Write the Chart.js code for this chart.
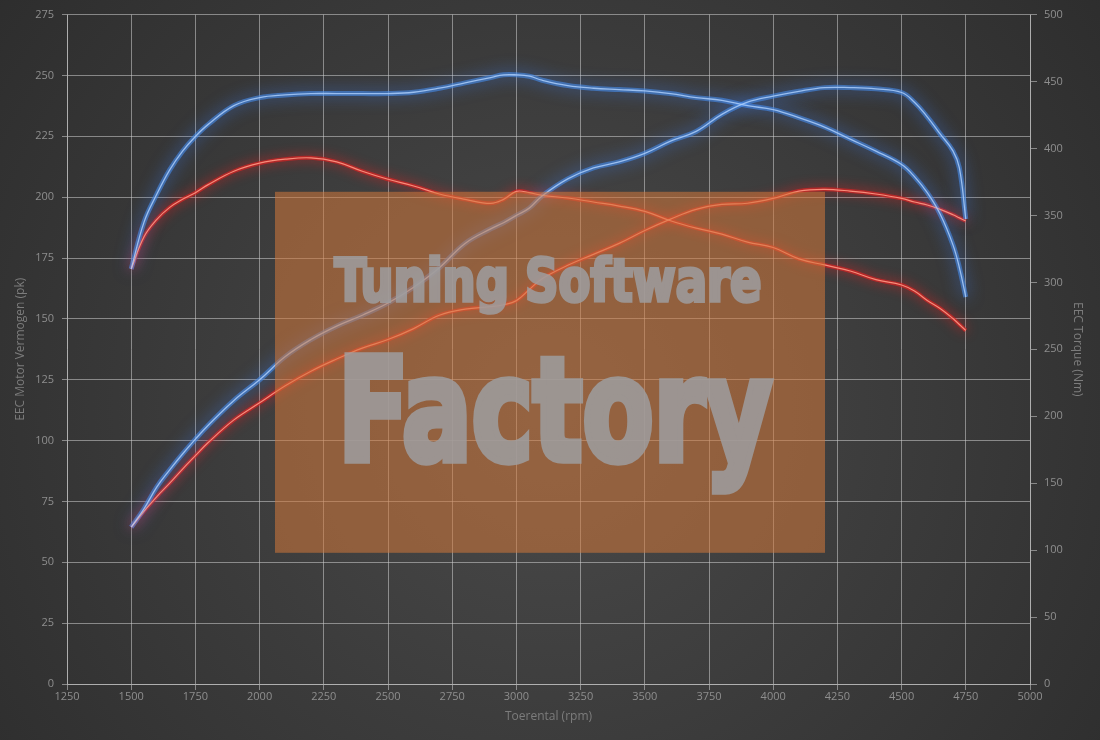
<!DOCTYPE html>
<html>
<head>
<meta charset="utf-8">
<title>EEC vermogen / koppel</title>
<script src="https://cdn.jsdelivr.net/npm/chart.js@4.4.1/dist/chart.umd.min.js"></script>
<style>
    html, body { margin: 0; padding: 0; background: #2e2e2e; }
    canvas { display: block; }
</style>
</head>
<body>
<canvas id="dynoChart" width="1100" height="740"></canvas>
<script>
// measured rpm points
const rpm = [1500, 1550, 1600, 1650, 1700, 1750, 1800, 1900, 2000, 2100, 2200, 2300, 2400, 2500,
    2600, 2700, 2800, 2900, 2950, 3000, 3050, 3100, 3200, 3300, 3400, 3500, 3600, 3700, 3800,
    3900, 4000, 4100, 4200, 4300, 4400, 4500, 4550, 4600, 4650, 4700, 4725, 4750];

// power (pk) - left axis
const tunedPower = [64.4, 72, 81, 88, 94.5, 100.6, 106.3, 116.5, 125, 134.5, 141.5, 147, 151.5, 156.5,
    163, 171, 181, 187, 189.5, 192.5, 195.5, 200.5, 207.5, 212, 214.5, 218, 223, 227, 234,
    239, 241.5, 243.5, 245, 245, 244.5, 243, 239, 233, 226, 219, 212, 191];
const stockPower = [64.4, 71, 77, 82.5, 88.3, 93.8, 99.2, 108.5, 115.5, 122.5, 128.5, 133.5, 138, 141.5,
    146, 151.5, 154, 155, 155.8, 157.5, 162, 166.5, 172, 176.5, 181, 186.3, 191, 195, 197,
    197.5, 199.5, 202.5, 203.2, 202.5, 201.3, 199.5, 198, 196.8, 195, 192.8, 191.5, 190.2];

// torque (Nm) - right axis
const tunedTorque = [310, 345, 366, 384, 398, 409, 418, 432, 438, 440, 441, 441, 441, 441,
    442, 445, 449, 453, 455, 455, 454, 451, 447, 445, 444, 443, 441, 438, 436,
    432, 429, 423, 416, 407, 398, 388, 379, 367, 351, 328, 311, 289];
const stockTorque = [310, 334, 347, 356, 362, 367, 373, 383, 389, 392, 393, 390, 383, 377,
    372, 366, 362, 359, 362, 368, 367, 365, 363, 360, 357, 353, 346, 340.5, 336,
    330, 326, 317.5, 313, 308.5, 302, 298, 293.5, 286.5, 280.5, 273, 268.5, 264];

// axis ranges
const rpmAxis = { min: 1250, max: 5000, step: 250 };
const powerAxis = { min: 0, max: 275, step: 25 };
const torqueAxis = { min: 0, max: 500, step: 50 };

const gridColor = 'rgba(205, 205, 205, 0.55)';
const tickColor = '#8e8e8e';
const titleColor = '#7c7c7c';
const fontFamily = '"Open Sans", "DejaVu Sans", sans-serif';

function points(values) {
    return rpm.map((r, i) => ({ x: r, y: values[i] }));
}

function glowLine(values, axis, color, shadow, width, blur) {
    return {
        data: points(values), yAxisID: axis,
        borderColor: color, borderWidth: width,
        pointRadius: 0, fill: false, tension: 0.4,
        glowColor: shadow, glowBlur: blur
    };
}

function coreLine(values, axis, color, width) {
    return {
        data: points(values), yAxisID: axis,
        borderColor: color, borderWidth: width,
        pointRadius: 0, fill: false, tension: 0.4
    };
}

// soft radial backdrop
const backdrop = {
    id: 'backdrop',
    beforeDraw(chart) {
        const { ctx, width, height } = chart;
        const g = ctx.createRadialGradient(width * 0.5, height * 0.55, 0, width * 0.5, height * 0.55, width * 0.68);
        g.addColorStop(0, '#4a4a4a');
        g.addColorStop(1, '#2b2b2b');
        ctx.save();
        ctx.fillStyle = g;
        ctx.fillRect(0, 0, width, height);
        ctx.restore();
    }
};

// shadow blur around the lines
const glow = {
    id: 'glow',
    beforeDatasetDraw(chart, args) {
        const ds = chart.data.datasets[args.index];
        if (!ds.glowColor) return;
        chart.ctx.save();
        chart.ctx.shadowColor = ds.glowColor;
        chart.ctx.shadowBlur = ds.glowBlur;
    },
    afterDatasetDraw(chart, args) {
        if (chart.data.datasets[args.index].glowColor) chart.ctx.restore();
    }
};

function fitText(ctx, text, x, baseline, width, capHeight, weight) {
    ctx.font = 'bold 100px "DejaVu Sans Condensed", "DejaVu Sans", sans-serif';
    const cap = ctx.measureText('T').actualBoundingBoxAscent || 73;
    const size = 100 * (capHeight - weight) / cap;
    ctx.font = 'bold ' + size + 'px "DejaVu Sans Condensed", "DejaVu Sans", sans-serif';
    const m = ctx.measureText(text);
    const sx = (width - weight) / m.width;
    ctx.save();
    ctx.translate(x + weight / 2, baseline);
    ctx.scale(sx, 1);
    ctx.textBaseline = 'alphabetic';
    ctx.lineJoin = 'miter';
    ctx.lineWidth = weight / sx;
    ctx.fillText(text, 0, 0);
    ctx.strokeText(text, 0, 0);
    ctx.restore();
}

// watermark box on top of the curves
const watermark = {
    id: 'watermark',
    afterDatasetsDraw(chart) {
        const { ctx, chartArea: ca } = chart;
        const w = 550, h = 361;
        const left = (ca.left + ca.right) / 2 + 1.5 - w / 2;
        const top = (ca.top + ca.bottom) / 2 + 23 - h / 2;
        ctx.save();
        ctx.fillStyle = 'rgba(211, 120, 58, 0.55)';
        ctx.fillRect(left, top, w, h);

        // text drawn opaque off screen, then laid over with some transparency
        const off = document.createElement('canvas');
        off.width = chart.width;
        off.height = chart.height;
        const octx = off.getContext('2d');
        octx.fillStyle = '#9e9ea0';
        octx.strokeStyle = '#9e9ea0';
        fitText(octx, 'Tuning Software', left + 58, top + 109, 430, 47, 3);
        fitText(octx, 'Factory', left + 60, top + 268, 440, 112, 6);
        ctx.globalAlpha = 0.85;
        ctx.drawImage(off, 0, 0);
        ctx.restore();
    }
};

new Chart(document.getElementById('dynoChart').getContext('2d'), {
    type: 'line',
    data: {
        datasets: [
            coreLine(tunedPower, 'yPower', 'rgba(170, 205, 250, 0.85)', 1.3),
            coreLine(tunedTorque, 'yTorque', 'rgba(170, 205, 250, 0.85)', 1.3),
            coreLine(stockPower, 'yPower', 'rgba(255, 150, 130, 0.9)', 1.2),
            coreLine(stockTorque, 'yTorque', 'rgba(255, 150, 130, 0.9)', 1.2),
            glowLine(tunedPower, 'yPower', 'rgba(70, 140, 235, 0.6)', 'rgba(60, 130, 255, 1)', 5, 16),
            glowLine(tunedTorque, 'yTorque', 'rgba(70, 140, 235, 0.6)', 'rgba(60, 130, 255, 1)', 5, 16),
            glowLine(stockPower, 'yPower', 'rgba(215, 35, 35, 0.7)', 'rgba(255, 30, 30, 1)', 4, 12),
            glowLine(stockTorque, 'yTorque', 'rgba(215, 35, 35, 0.7)', 'rgba(255, 30, 30, 1)', 4, 12)
        ]
    },
    options: {
        responsive: false,
        animation: false,
        devicePixelRatio: 1,
        layout: { padding: { top: 10, left: 0, right: 0, bottom: 0 } },
        plugins: { legend: { display: false }, tooltip: { enabled: false } },
        scales: {
            x: {
                type: 'linear', min: rpmAxis.min, max: rpmAxis.max,
                ticks: {
                    stepSize: rpmAxis.step, color: tickColor, padding: 0, autoSkip: false, maxRotation: 0,
                    font: { family: fontFamily, size: 11 }, callback: v => String(v)
                },
                grid: { color: gridColor, tickColor: gridColor, tickLength: 6 },
                border: { color: gridColor },
                title: {
                    display: true, text: 'Toerental (rpm)', color: titleColor,
                    font: { family: fontFamily, size: 12 }, padding: { bottom: 16 }
                },
                afterFit(scale) { scale.height = 56; }
            },
            yPower: {
                position: 'left', min: powerAxis.min, max: powerAxis.max,
                ticks: { stepSize: powerAxis.step, color: tickColor, padding: 8, font: { family: fontFamily, size: 11 } },
                grid: { color: gridColor, tickColor: gridColor, tickLength: 5 },
                border: { color: gridColor },
                title: {
                    display: true, text: 'EEC Motor Vermogen (pk)', color: titleColor,
                    font: { family: fontFamily, size: 12 }, padding: { top: 13 }
                },
                afterFit(scale) { scale.width = 67; }
            },
            yTorque: {
                position: 'right', min: torqueAxis.min, max: torqueAxis.max,
                ticks: { stepSize: torqueAxis.step, color: tickColor, padding: 7, font: { family: fontFamily, size: 11 } },
                grid: { drawOnChartArea: false, color: gridColor, tickColor: gridColor, tickLength: 7 },
                border: { color: gridColor },
                title: {
                    display: true, text: 'EEC Torque (Nm)', color: titleColor,
                    font: { family: fontFamily, size: 12 }, padding: { top: 15 }
                },
                afterFit(scale) { scale.width = 70; }
            }
        }
    },
    plugins: [backdrop, glow, watermark]
});
</script>
</body>
</html>
